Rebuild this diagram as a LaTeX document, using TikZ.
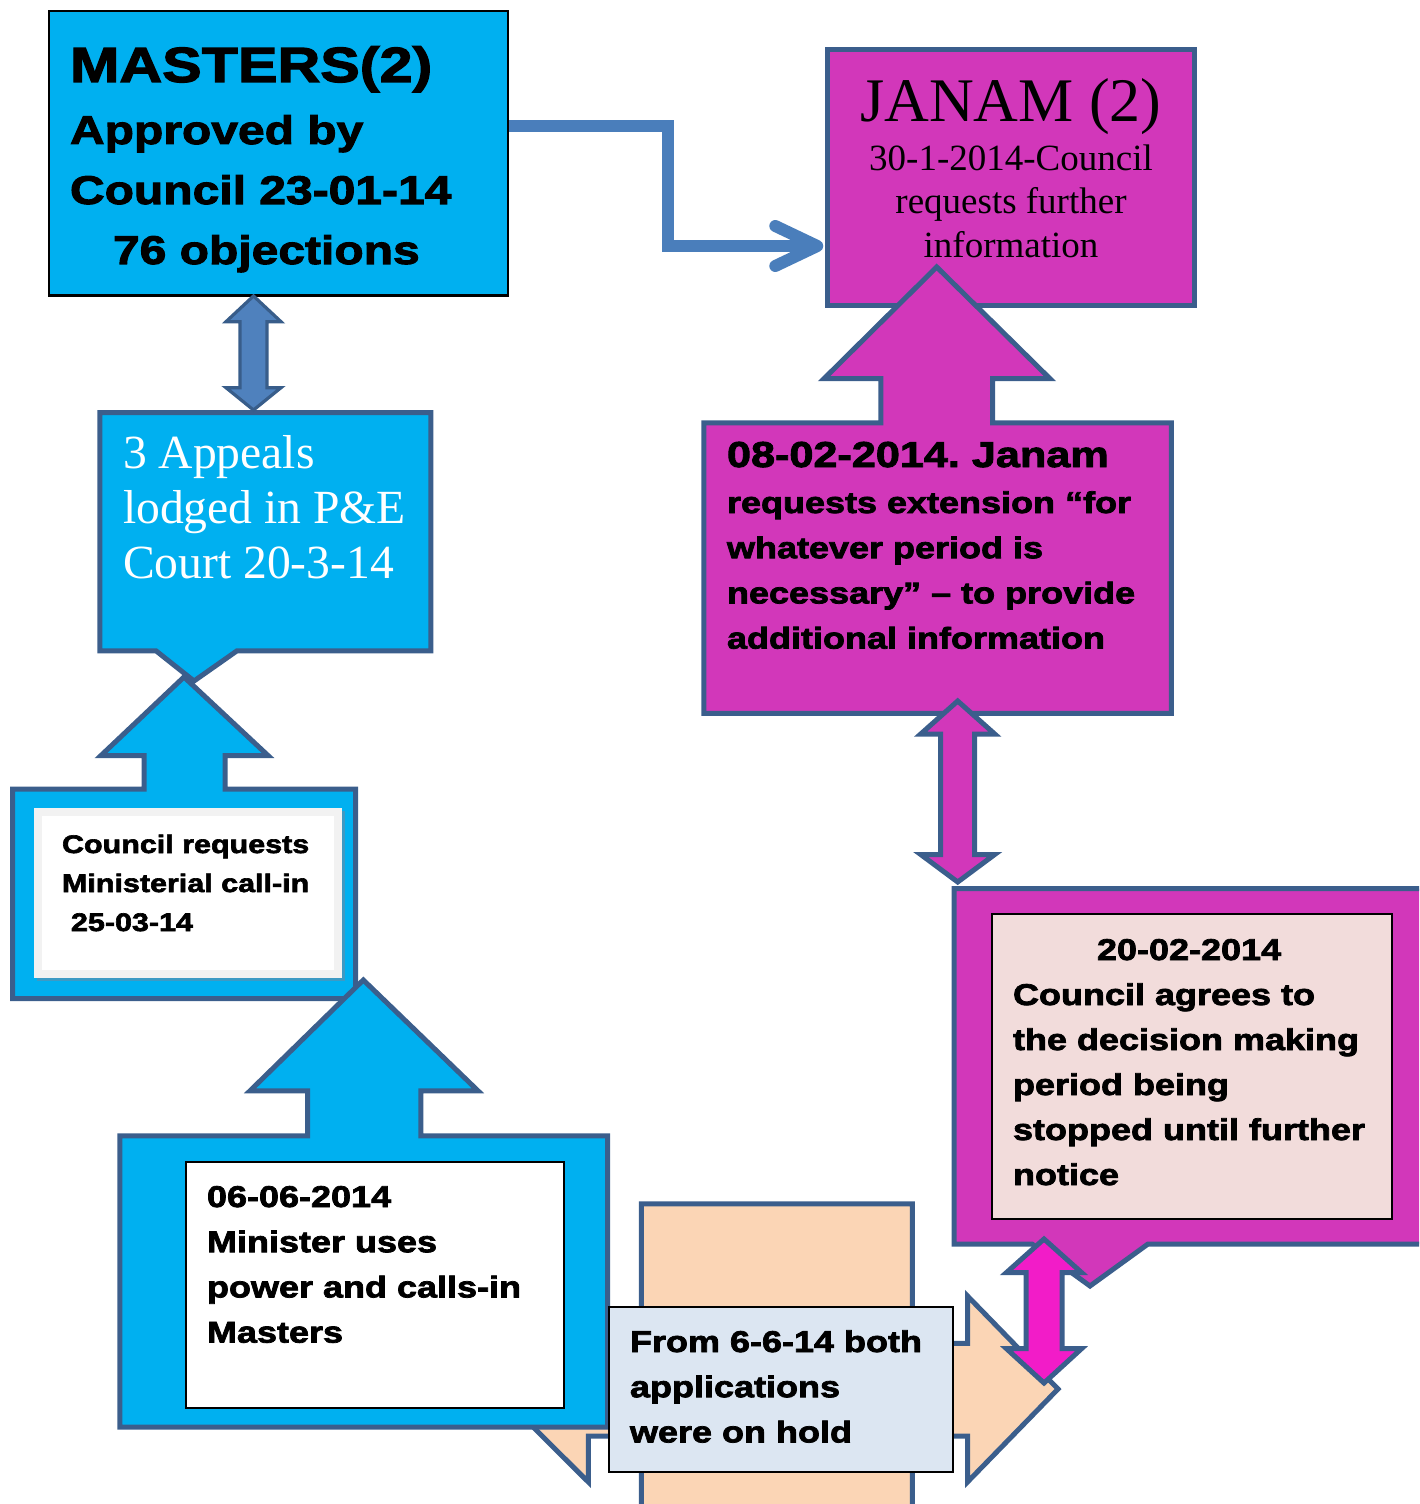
\documentclass[tikz,border=0pt]{standalone}
\usepackage{fontspec}
\usetikzlibrary{calc}
\newfontfamily\blk{Liberation Sans}[UprightFont={* Bold},FakeStretch=1.2,FakeBold=2.5]
\newfontfamily\srf{Liberation Serif}
\newcommand\blkfont[2]{\blk\fontsize{#1}{#2}\selectfont\lineskiplimit=-100pt\lineskip=0pt\relax}
\newcommand\srffont[2]{\srf\fontsize{#1}{#2}\selectfont\lineskiplimit=-100pt\lineskip=0pt\relax}
\newcommand\DoubleBlockArrow[8]{\draw[#1] (#2,#3) -- (#2+#8,#4) -- (#2+#7,#4) -- (#2+#7,#5) -- (#2+#8,#5) -- (#2,#6) -- (#2-#8,#5) -- (#2-#7,#5) -- (#2-#7,#4) -- (#2-#8,#4) -- cycle;}
\definecolor{cyanF}{HTML}{00B0F0}
\definecolor{outlc}{HTML}{3B5E8C}
\definecolor{magF}{HTML}{D237BA}
\definecolor{pinkA}{HTML}{F21CC8}
\definecolor{peachF}{HTML}{FBD5B5}
\definecolor{fromF}{HTML}{DCE6F2}
\definecolor{noteF}{HTML}{F2DCDB}
\definecolor{blueA}{HTML}{4F81BD}
\definecolor{blueAo}{HTML}{385D8A}
\definecolor{connc}{HTML}{4A7EBB}
\definecolor{greyF}{HTML}{F2F2F2}
\definecolor{shadowc}{HTML}{3D9AC4}
\frenchspacing
\begin{document}
\begin{tikzpicture}[x=0.5pt,y=-0.5pt,
  outl/.style={draw=outlc,line width=2.5pt,miter limit=10},
  cyanshape/.style={outl,fill=cyanF},
  magshape/.style={outl,fill=magF},
  notebox/.style={draw=black,line width=1pt,inner sep=0pt},
  conn/.style={draw=connc,line width=6pt},
  txt/.style={anchor=base west,inner sep=0pt,outer sep=0pt},
  ctxt/.style={anchor=base,inner sep=0pt,outer sep=0pt}]
\useasboundingbox (0,0) rectangle (1419,1504);
\clip (0,0) rectangle (1419,1504);

% MASTERS box
\node[draw=black,line width=1.2pt,fill=cyanF,minimum width=229.5pt,minimum height=142.2pt,inner sep=0pt] (masters) at (278.3,153.4) {};
\node[txt] (mastersText) at (70,82) {\vtop{\blkfont{20pt}{30pt}%
  \hbox{\fontsize{24.7pt}{24.7pt}\selectfont MASTERS(2)}\vskip1pt
  \hbox{Approved by}
  \hbox{Council 23-01-14}
  \hbox{\hskip21.5pt 76 objections}}};

% connector MASTERS -> JANAM
\node[outl,fill=magF,minimum width=183.2pt,minimum height=127.9pt,inner sep=0pt] (janam) at (1011,177.9) {};
\coordinate (bendA) at (668,126);
\coordinate (bendB) at (668,246);
\coordinate (tipA) at ($(janam.west |- bendB)+(-8,0)$);
\draw[conn] (masters.east |- bendA) -- (bendA) -- (bendB) -- (tipA);
\draw[conn,line cap=round,line join=round] ($(tipA)+(-42,-20)$) -- (tipA) -- ($(tipA)+(-42,20)$);
\node[ctxt] (janamText) at (1011,121) {\vtop{\srffont{18.5pt}{21.75pt}%
  \hbox to 180pt{\hfil\fontsize{31pt}{31pt}\selectfont JANAM (2)\hfil}\vskip3pt
  \hbox to 180pt{\hfil 30-1-2014-Council\hfil}
  \hbox to 180pt{\hfil requests further\hfil}
  \hbox to 180pt{\hfil information\hfil}}};

% Appeals callout
\draw[cyanshape] (99.8,412.5) -- (430.8,412.5) -- (430.8,650.8) -- (237,650.8) -- (194,681) -- (156,650.8) -- (99.8,650.8) -- cycle;
\node[txt,text=white] (appealsText) at (123,468) {\vtop{\srffont{23.8pt}{27.5pt}%
  \hbox{3 Appeals}
  \hbox{lodged in P\&E}
  \hbox{Court 20-3-14}}};

% double arrow MASTERS <-> Appeals
\DoubleBlockArrow{draw=blueAo,fill=blueA,line width=1.6pt}{253.5}{296}{321.7}{387.7}{410}{13.5}{27.5}

% Council request callout
\draw[cyanshape] (12.5,789) -- (144,789) -- (144,755.5) -- (101,755.5) -- (184,677) -- (268,755.5) -- (225,755.5) -- (225,789) -- (355.5,789) -- (355.5,998.5) -- (12.5,998.5) -- cycle;
\fill[shadowc] (37,811) rectangle (345,981);
\node[fill=greyF,minimum width=154pt,minimum height=85pt,inner sep=0pt] (councilNote) at (188,893) {};
\fill[white] (42,816) rectangle (334,970);
\node[txt] (councilText) at (62,853) {\vtop{\blkfont{12.7pt}{19.5pt}%
  \hbox{Council requests}
  \hbox{Ministerial call-in}
  \hbox{\hskip4.5pt 25-03-14}}};

% peach arrow shape
\draw[outl,fill=peachF] (641.4,1203.8) -- (912.4,1203.8) -- (912.4,1343.3) -- (967.5,1343.3) -- (967.5,1296) -- (1058,1389) -- (967.5,1482) -- (967.5,1436) -- (912.4,1436) -- (912.4,1530) -- (641.4,1530) -- (641.4,1436) -- (588.3,1436) -- (588.3,1482) -- (495,1389) -- (588.3,1296) -- (588.3,1343.3) -- (641.4,1343.3) -- cycle;

% Minister callout
\draw[cyanshape] (119.8,1135.8) -- (307.5,1135.8) -- (307.5,1090.8) -- (250,1090.8) -- (363.3,980) -- (478,1090.8) -- (420.8,1090.8) -- (420.8,1135.8) -- (607.5,1135.8) -- (607.5,1427) -- (119.8,1427) -- cycle;
\node[notebox,fill=white,minimum width=188.8pt,minimum height=122.9pt] (ministerNote) at (375,1285.1) {};
\node[txt] (ministerText) at (207,1207) {\vtop{\blkfont{15pt}{22.6pt}%
  \hbox{06-06-2014}
  \hbox{Minister uses}
  \hbox{power and calls-in}
  \hbox{Masters}}};

% From box
\node[notebox,fill=fromF,minimum width=172.45pt,minimum height=82.65pt] (fromNote) at (781,1389.2) {};
\node[txt] (fromText) at (630,1352) {\vtop{\blkfont{15pt}{22.6pt}%
  \hbox{From 6-6-14 both}
  \hbox{applications}
  \hbox{were on hold}}};

% 08-02 callout
\draw[magshape] (703.8,422.8) -- (880.8,422.8) -- (880.8,378.7) -- (824,378.7) -- (936.7,267) -- (1050,378.7) -- (992.5,378.7) -- (992.5,422.8) -- (1171.3,422.8) -- (1171.3,713.3) -- (703.8,713.3) -- cycle;
\node[txt] (janamReqText) at (727,467) {\vtop{\blkfont{15pt}{22.6pt}%
  \hbox{\fontsize{18pt}{18pt}\selectfont 08-02-2014. Janam}\vskip0.4pt
  \hbox{requests extension “for}
  \hbox{whatever period is}
  \hbox{necessary” – to provide}
  \hbox{additional information}}};

% double arrow 08-02 <-> 20-02
\DoubleBlockArrow{magshape}{957.7}{701}{734}{854.5}{882}{17}{37}

% 20-02 callout
\draw[magshape] (954.2,888.7) -- (1440,888.7) -- (1440,1244) -- (1148,1244) -- (1090,1286) -- (1032,1244) -- (954.2,1244) -- cycle;
\node[notebox,fill=noteF,minimum width=200.15pt,minimum height=152.65pt] (agreeNote) at (1192.2,1066.2) {};
\node[txt] (agreeText) at (1013,960) {\vtop{\blkfont{15pt}{22.5pt}%
  \hbox{\hskip42pt 20-02-2014}
  \hbox{Council agrees to}
  \hbox{the decision making}
  \hbox{period being}
  \hbox{stopped until further}
  \hbox{notice}}};

% double arrow 20-02 <-> hold
\DoubleBlockArrow{outl,fill=pinkA}{1044}{1239}{1272.5}{1348.7}{1383}{18}{37.5}
\end{tikzpicture}
\end{document}
